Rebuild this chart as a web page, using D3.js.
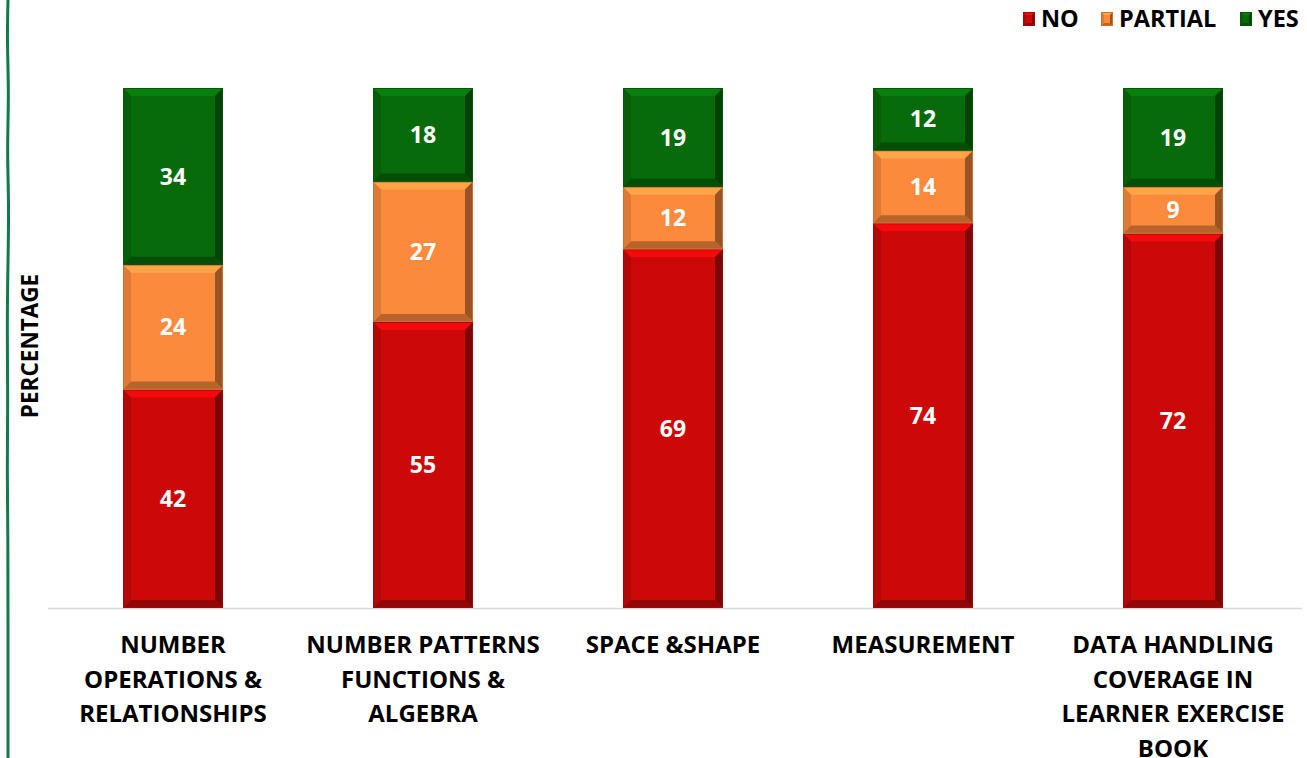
<!DOCTYPE html>
<html>
<head>
<meta charset="utf-8">
<script src="https://cdn.jsdelivr.net/npm/d3@7"></script>
<style>
	body { margin: 0; background: #fff; }
	svg { display: block; font-family: "Open Sans", Lato, sans-serif; font-weight: bold; }
</style>
</head>
<body>
<svg id="chart" width="1307" height="758"></svg>
<script>
// chart data
const categories = ["NUMBER OPERATIONS & RELATIONSHIPS", "NUMBER PATTERNS FUNCTIONS & ALGEBRA", "SPACE &SHAPE", "MEASUREMENT", "DATA HANDLING COVERAGE IN LEARNER EXERCISE BOOK"];
const tickLines = [
	["NUMBER", "OPERATIONS &", "RELATIONSHIPS"],
	["NUMBER PATTERNS", "FUNCTIONS &", "ALGEBRA"],
	["SPACE &SHAPE"],
	["MEASUREMENT"],
	["DATA HANDLING", "COVERAGE IN", "LEARNER EXERCISE", "BOOK"],
];
const seriesNames = ["NO", "PARTIAL", "YES"];
const noValues = [42, 55, 69, 74, 72];
const partialValues = [24, 27, 12, 14, 9];
const yesValues = [34, 18, 19, 12, 19];
const seriesColors = ["#cc0808", "#fb8a3c", "#076b09"];

const svg = d3.select("#chart");
const width = 1307;
const height = 758;
const margin = { top: 88, right: 9, bottom: 150, left: 48 };
const innerWidth = width - margin.left - margin.right;
const innerHeight = height - margin.top - margin.bottom;

const rows = categories.map((c, i) => ({ cat: c, NO: noValues[i], PARTIAL: partialValues[i], YES: yesValues[i] }));
const stacked = d3.stack().keys(seriesNames)(rows);

const xScale = d3.scaleBand().domain(categories).range([0, innerWidth]).paddingInner(0.6).paddingOuter(0.3);
const yScale = d3.scaleLinear().domain([0, 100]).range([innerHeight, 0]);
const colorScale = d3.scaleOrdinal().domain(seriesNames).range(seriesColors);

// decorative wavy border on the left
const wave = [[8, 0], [7, 40], [9, 95], [7, 150], [9, 205], [8, 260], [7, 330], [8, 400], [7, 470], [8, 540], [8, 620], [8, 700], [8, 758]];
svg.append("path")
	.attr("d", d3.line().curve(d3.curveBasis)(wave))
	.attr("fill", "none")
	.attr("stroke", "#0e7a4e")
	.attr("stroke-width", 3);

const g = svg.append("g").attr("transform", `translate(${margin.left}, ${margin.top})`);

// baseline
g.append("line")
	.attr("x1", 0).attr("x2", innerWidth + 4)
	.attr("y1", yScale(0) + 0.5).attr("y2", yScale(0) + 0.5)
	.attr("stroke", "#d9d9d9")
	.attr("stroke-width", 1.5);

// bevelled segment
const bevel = 8;
function drawSegment(sel, x0, x1, y0, y1, color, b = bevel) {
	const c = d3.color(color);
	b = Math.min(b, (y1 - y0) / 2 - 1);
	sel.append("rect").attr("x", x0).attr("y", y0).attr("width", x1 - x0).attr("height", y1 - y0).attr("fill", c.formatHex());
	const faces = [
		{ pts: [[x0, y0], [x1, y0], [x1 - b, y0 + b], [x0 + b, y0 + b]], fill: c.brighter(0.5) },
		{ pts: [[x0, y0], [x0 + b, y0 + b], [x0 + b, y1 - b], [x0, y1]], fill: c.darker(0.35) },
		{ pts: [[x1, y0], [x1, y1], [x1 - b, y1 - b], [x1 - b, y0 + b]], fill: c.darker(1.4) },
		{ pts: [[x0, y1], [x0 + b, y1 - b], [x1 - b, y1 - b], [x1, y1]], fill: c.darker(0.9) },
	];
	sel.selectAll(null).data(faces).enter().append("polygon")
		.attr("points", (d) => d.pts.map((p) => p.join(",")).join(" "))
		.attr("fill", (d) => d.fill.formatHex());
	sel.append("rect")
		.attr("x", x0 + 0.5).attr("y", y0 + 0.5).attr("width", x1 - x0 - 1).attr("height", y1 - y0 - 1)
		.attr("fill", "none").attr("stroke", c.darker(0.6).formatHex()).attr("stroke-width", 1);
}

stacked.forEach((layer) => {
	const lg = g.append("g").attr("class", "series");
	layer.forEach((d) => {
		const x0 = xScale(d.data.cat);
		const x1 = x0 + xScale.bandwidth();
		drawSegment(lg, x0, x1, yScale(d[1]), yScale(d[0]), colorScale(layer.key));
	});
	lg.selectAll(".val")
		.data(layer)
		.enter()
		.append("text")
		.attr("class", "val")
		.attr("x", (d) => xScale(d.data.cat) + xScale.bandwidth() / 2)
		.attr("y", (d) => (yScale(d[0]) + yScale(d[1])) / 2)
		.attr("dy", "0.36em")
		.attr("text-anchor", "middle")
		.attr("fill", "#fff")
		.style("font-size", "23px")
		.text((d) => d[1] - d[0]);
});

// category labels, one text per line
const labels = g.append("g").attr("transform", `translate(0, ${innerHeight})`);
categories.forEach((c, i) => {
	labels.selectAll(null)
		.data(tickLines[i])
		.enter()
		.append("text")
		.attr("x", xScale(c) + xScale.bandwidth() / 2)
		.attr("y", (d, j) => 45 + j * 34.5)
		.attr("text-anchor", "middle")
		.attr("fill", "#000")
		.style("font-size", "24px")
		.text((d) => d);
});

// y axis title
svg.append("text")
	.attr("transform", `translate(38, 346) rotate(-90)`)
	.attr("text-anchor", "middle")
	.attr("fill", "#000")
	.style("font-size", "22.5px")
	.text("PERCENTAGE");

// legend
const legendX = [1023, 1101, 1240];
const legend = svg.append("g").attr("class", "legend");
seriesNames.forEach((s, i) => {
	const lg = legend.append("g").attr("transform", `translate(${legendX[i]}, 12)`);
	drawSegment(lg, 0, 12, 0, 14, colorScale(s), 3);
	lg.append("text")
		.attr("x", 18)
		.attr("y", 7)
		.attr("dy", "0.36em")
		.attr("fill", "#000")
		.style("font-size", "23.5px")
		.text(s);
});
</script>
</body>
</html>
